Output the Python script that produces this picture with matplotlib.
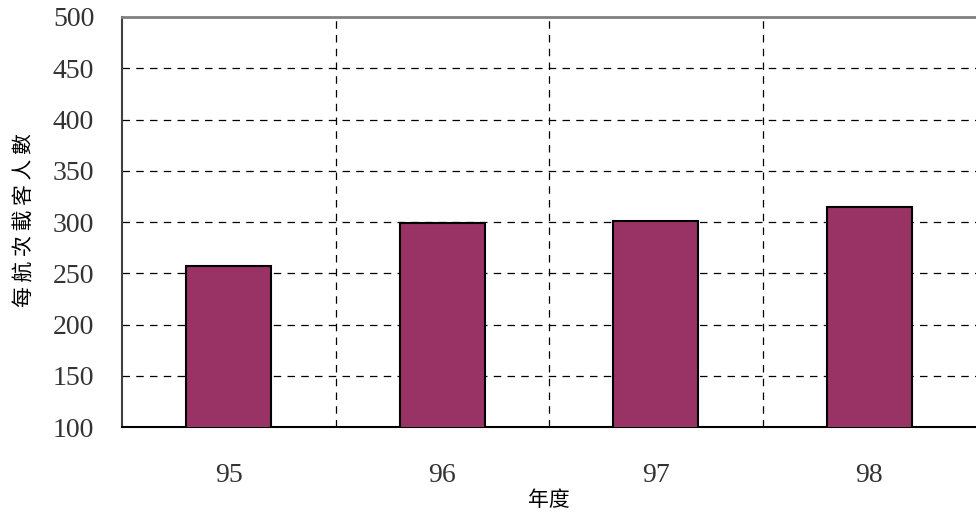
import matplotlib.pyplot as plt

years = ['95', '96', '97', '98']
passengers = [257, 299, 301, 315]

plt.rcParams['font.family'] = ['Liberation Serif', 'Noto Sans CJK TC']

fig = plt.figure(figsize=(9.76, 5.19), dpi=100)
ax = fig.add_axes([122 / 976, 1 - 427 / 519, 854 / 976, 410 / 519])

x = range(len(years))
ax.bar(x, passengers, width=0.4, color='#993366', edgecolor='black', linewidth=1.5, zorder=3)

ax.set_xlim(-0.5, len(years) - 0.5)
ax.set_ylim(100, 500)
ax.set_yticks(range(100, 501, 50))
ax.set_xticks(list(x), years)

# grid: horizontal at y ticks, vertical between categories
for yv in range(150, 500, 50):
    ax.axhline(yv, color='black', linestyle=(0, (6, 5)), linewidth=0.9, zorder=1)
for xv in [0.5, 1.5, 2.5]:
    ax.axvline(xv, color='black', linestyle=(0, (6, 5)), linewidth=0.9, zorder=1)

ax.tick_params(axis='both', length=0, labelsize=20, colors='#333333')
ax.tick_params(axis='x', pad=26)
ax.tick_params(axis='y', pad=20)

ax.spines['top'].set_color('#808080')
ax.spines['top'].set_linewidth(2)
ax.spines['left'].set_color('#404040')
ax.spines['left'].set_linewidth(1.5)
ax.spines['bottom'].set_color('black')
ax.spines['bottom'].set_linewidth(1.5)
ax.spines['right'].set_visible(False)

fig.text(25 / 976, 1 - 220 / 519, '每 航 次 載 客 人 數', rotation=90, fontsize=15,
         family=['Noto Sans CJK TC'], ha='center', va='center')
fig.text(549 / 976, 1 - 500 / 519, '年度', fontsize=15,
         family=['Noto Sans CJK TC'], ha='center', va='center')

fig.savefig('out.png', dpi=100)
